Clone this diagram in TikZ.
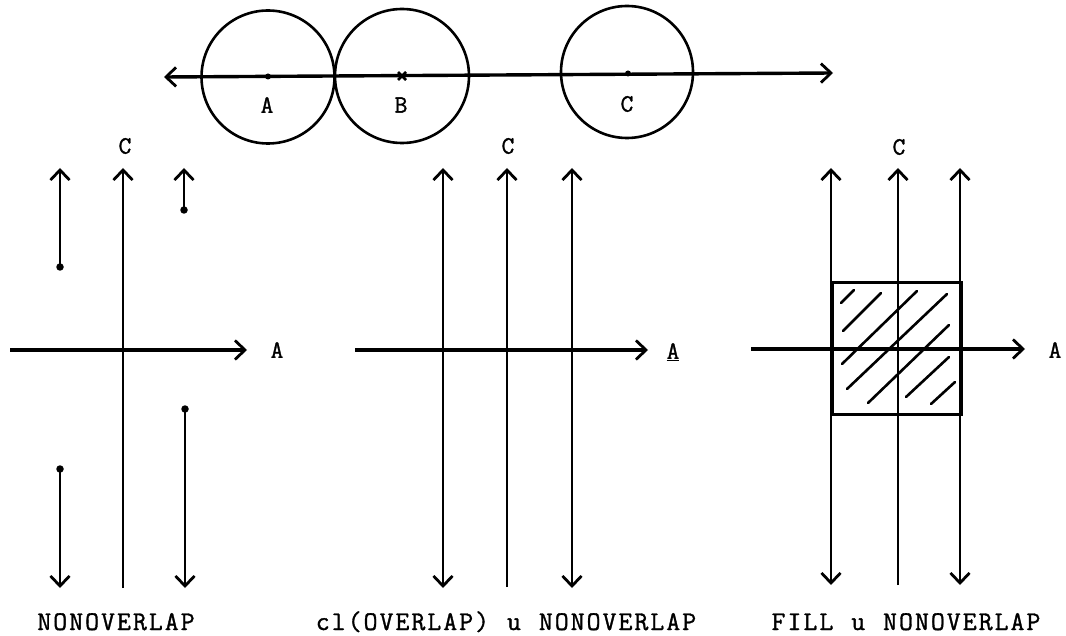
\documentclass[tikz,border=0pt]{standalone}
\usepackage{fontspec}
\usetikzlibrary{arrows.meta}
\newfontfamily\twfont[LetterSpace=7.5,FakeBold=1.2]{Latin Modern Mono}
\newfontfamily\lblfont[FakeBold=1.2]{Latin Modern Mono}
\tikzset{
  ax/.style={line width=2.6pt},
  hax/.style={line width=3.4pt},
  tipA/.tip={Straight Barb[length=10pt,width=19pt,line width=2.8pt]},
  arr/.style={ax,-tipA},
  harr/.style={hax,-tipA},
  dbl/.style={ax,tipA-tipA},
  ring/.style={line width=2.6pt},
  pt/.style={circle,fill=black,inner sep=0pt,minimum size=7.5pt},
  lbl/.style={font=\lblfont\fontsize{25}{25}\selectfont,inner sep=0pt},
  captxt/.style={font=\twfont\fontsize{27}{27}\selectfont,inner sep=0pt,anchor=base},
  hatch/.style={line width=2.6pt,line cap=round},
}
\begin{document}
\begin{tikzpicture}[x=1pt,y=-1pt]
\useasboundingbox (0,0) rectangle (1066,636);
% ---------- top line with circles ----------
\coordinate (tl) at (164,77);
\coordinate (tr) at (833,73);
\draw[hax,tipA-tipA] (tl) -- (tr);
\draw[ring] (268,77) circle (66.5);
\draw[ring] (402,76) circle (67);
\draw[ring] (627,72) circle (66);
\node[pt,minimum size=6pt] (pA) at (268,76.5) {};
\draw[line width=2.6pt] (398,72) -- (406,80) (398,80) -- (406,72);
\coordinate (pB) at (402,76);
\node[pt,minimum size=6pt] (pC) at (628,73.5) {};
\node[lbl] (lA) at (267,105) {A};
\node[lbl] (lB) at (401,105) {B};
\node[lbl] (lC) at (627,104) {C};
% ---------- left panel ----------
\coordinate (Lct) at (123,168);
\coordinate (Lcb) at (123,588);
\draw[arr] (Lcb) -- (Lct);
\node[lbl] (LC) at (125,146) {C};
\coordinate (Lhl) at (10,350);
\coordinate (Lhr) at (247,350);
\draw[harr] (Lhl) -- (Lhr);
\node[lbl] (LA) at (277,350) {A};
\node[pt] (d1) at (60,267) {};
\coordinate (t1) at (60,168);
\draw[arr] (d1.center) -- (t1);
\node[pt] (d2) at (184,210) {};
\coordinate (t2) at (184,168);
\draw[arr] (d2.center) -- (t2);
\node[pt] (d3) at (60,469) {};
\coordinate (t3) at (60,588);
\draw[arr] (d3.center) -- (t3);
\node[pt] (d4) at (185,409) {};
\coordinate (t4) at (185,588);
\draw[arr] (d4.center) -- (t4);
\node[captxt] (capL) at (116,630) {NONOVERLAP};
% ---------- middle panel ----------
\coordinate (M1t) at (443,168); \coordinate (M1b) at (443,588);
\coordinate (M2t) at (507,168); \coordinate (M2b) at (507,587);
\coordinate (M3t) at (572,168); \coordinate (M3b) at (572,588);
\draw[dbl] (M1b) -- (M1t);
\draw[arr] (M2b) -- (M2t);
\draw[dbl] (M3b) -- (M3t);
\node[lbl] (MC) at (508,146) {C};
\coordinate (Mhl) at (355,350);
\coordinate (Mhr) at (648,350);
\draw[harr] (Mhl) -- (Mhr);
\node[lbl] (MA) at (673,352) {\underline{A}};
\node[captxt] (capM) at (506,630) {cl(OVERLAP) \textbf{u} NONOVERLAP};
% ---------- right panel ----------
\coordinate (R1t) at (831,168); \coordinate (R1b) at (831,585);
\coordinate (R2t) at (898,168); \coordinate (R2b) at (898,585);
\coordinate (R3t) at (960,168); \coordinate (R3b) at (960,585);
\draw[line width=3pt] (832,283) rectangle (961,414);
\draw[hatch] (841,303) -- (854,290);
\draw[hatch] (843,331) -- (881,293);
\draw[hatch] (842,364) -- (917,291);
\draw[hatch] (847,389) -- (947,294);
\draw[hatch] (868,403) -- (949,325);
\draw[hatch] (906,397) -- (949,357);
\draw[hatch] (931,404) -- (955,382);
\draw[dbl] (R1b) -- (R1t);
\draw[arr] (R2b) -- (R2t);
\draw[dbl] (R3b) -- (R3t);
\node[lbl] (RC) at (899,147) {C};
\coordinate (Rhl) at (751,349);
\coordinate (Rhr) at (1025,349);
\draw[harr] (Rhl) -- (Rhr);
\node[lbl] (RA) at (1055,350) {A};
\node[captxt] (capR) at (906,630) {FILL \textbf{u} NONOVERLAP};
\end{tikzpicture}
\end{document}
